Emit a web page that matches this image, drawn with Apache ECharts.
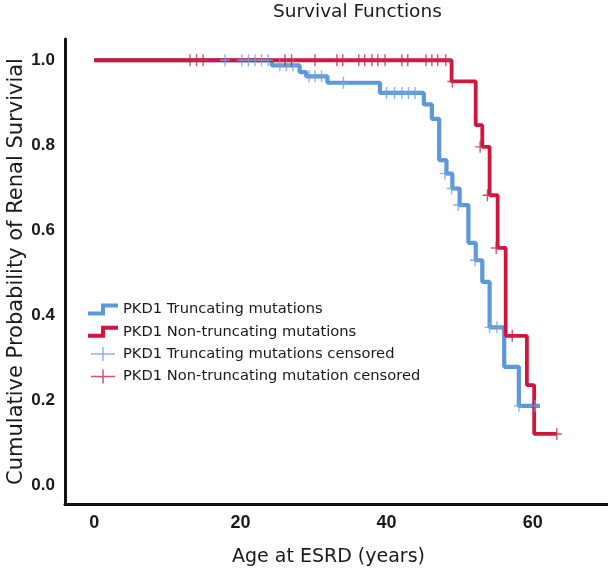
<!DOCTYPE html>
<html>
<head>
<meta charset="utf-8">
<script src="https://cdn.jsdelivr.net/npm/echarts@6/dist/echarts.min.js"></script>
<style>
  html, body { margin: 0; padding: 0; background: #fff; }
  #chart { width: 608px; height: 573px; }
</style>
</head>
<body>
<div id="chart"></div>
<script>
// Kaplan-Meier steps (age in years, survival)
const ageTrunc = [0, 24.3, 28.1, 29.0, 31.9, 39.1, 45.1, 46.2, 47.2, 48.2, 49.0, 50.0, 51.2, 52.2, 53.1, 54.1, 56.1, 58.1, 61.0];
const survTrunc = [1, 0.988, 0.972, 0.962, 0.947, 0.923, 0.896, 0.862, 0.765, 0.733, 0.698, 0.659, 0.570, 0.529, 0.478, 0.371, 0.278, 0.186, 0.186];

const ageNonTrunc = [0, 48.9, 52.2, 53.1, 54.1, 55.2, 56.3, 59.2, 60.2, 63.3];
const survNonTrunc = [1, 0.95, 0.847, 0.796, 0.682, 0.558, 0.351, 0.235, 0.12, 0.12];

// censored cases
const censAgeTrunc = [17.9, 20.2, 21.1, 22.0, 22.9, 23.8, 25.4, 26.3, 27.2, 29.4, 30.2, 31.1, 34.1,
  40.0, 41.1, 42.1, 43.0, 43.9, 48.0, 48.9, 49.8, 52.1, 54.1, 55.1, 58.1, 60.3];
const censSurvTrunc = [1, 1, 1, 1, 1, 1, 0.988, 0.988, 0.988, 0.962, 0.962, 0.962, 0.947,
  0.923, 0.923, 0.923, 0.923, 0.923, 0.733, 0.698, 0.659, 0.529, 0.371, 0.371, 0.186, 0.186];

const censAgeNonTrunc = [13.1, 14.0, 14.9, 26.1, 27.0, 30.2, 33.2, 34.0, 36.2, 37.0, 38.0, 38.8, 39.8,
  42.1, 42.9, 45.4, 46.2, 47.0, 48.1, 49.0, 52.8, 53.8, 55.0, 57.2, 63.3];
const censSurvNonTrunc = [1, 1, 1, 1, 1, 1, 1, 1, 1, 1, 1, 1, 1,
  1, 1, 1, 1, 1, 1, 0.95, 0.796, 0.682, 0.558, 0.351, 0.12];

const xTicks = [0, 20, 40, 60];
const yTicks = [0, 0.2, 0.4, 0.6, 0.8, 1.0];

const names = [
  'PKD1 Truncating mutations',
  'PKD1 Non-truncating mutations',
  'PKD1 Truncating mutations censored',
  'PKD1 Non-truncating mutation censored'
];

function pairs(xs, ys) {
  return xs.map(function (x, i) { return [x, ys[i]]; });
}

const stepIcon = 'path://M0,8 L13,8 L13,0 L30,0 L30,4 L17,4 L17,12 L0,12 Z';
const plusIcon = 'path://M0,6.25 L24,6.25 L24,7.75 L0,7.75 Z M11.25,0 L12.75,0 L12.75,14 L11.25,14 Z';
const censorMark = 'path://M0,5.3 L10,5.3 L10,6.7 L0,6.7 Z M4.3,0 L5.7,0 L5.7,12 L4.3,12 Z';

const chart = echarts.init(document.getElementById('chart'), null, { renderer: 'canvas' });

const option = {
  animation: false,
  backgroundColor: '#fff',
  title: {
    text: 'Survival Functions',
    left: 273,
    top: 3,
    padding: 0,
    textStyle: { fontFamily: 'DejaVu Sans', fontSize: 18.5, fontWeight: 'normal', color: '#1a1a1a' }
  },
  legend: {
    orient: 'vertical',
    left: 83,
    top: 297,
    itemWidth: 30,
    itemHeight: 14,
    itemGap: 7.3,
    textStyle: { fontFamily: 'DejaVu Sans', fontSize: 14.7, color: '#1a1a1a', lineHeight: 14 },
    data: [
      { name: names[0], icon: stepIcon },
      { name: names[1], icon: stepIcon },
      { name: names[2], icon: plusIcon },
      { name: names[3], icon: plusIcon }
    ]
  },
  grid: { left: 65, right: 0, top: 39, bottom: 69, outerBoundsMode: 'none', containLabel: false },
  xAxis: {
    type: 'value',
    min: -4,
    max: 70.3,
    name: 'Age at ESRD (years)',
    nameLocation: 'middle',
    nameGap: 44,
    nameMoveOverlap: false,
    nameTextStyle: { fontFamily: 'DejaVu Sans', fontSize: 19, color: '#1a1a1a', padding: [0, 16, 0, 0] },
    axisLine: { onZero: false, lineStyle: { color: '#111', width: 3 } },
    axisTick: { show: false },
    splitLine: { show: false },
    axisLabel: {
      customValues: xTicks,
      margin: 10,
      fontFamily: 'Liberation Sans',
      fontWeight: 'bold',
      fontSize: 18,
      color: '#1a1a1a'
    }
  },
  yAxis: {
    type: 'value',
    min: -0.045,
    max: 1.05,
    name: 'Cumulative Probability of Renal Survivial',
    nameLocation: 'middle',
    nameGap: 38,
    nameMoveOverlap: false,
    nameTextStyle: { fontFamily: 'DejaVu Sans', fontSize: 21, color: '#1a1a1a' },
    axisLine: { onZero: false, lineStyle: { color: '#111', width: 3 } },
    axisTick: { show: false },
    splitLine: { show: false },
    axisLabel: {
      customValues: yTicks,
      margin: 10,
      formatter: function (v) { return v.toFixed(1); },
      fontFamily: 'Liberation Sans',
      fontWeight: 'bold',
      fontSize: 17,
      color: '#1a1a1a'
    }
  },
  series: [
    {
      name: names[0],
      type: 'line',
      step: 'end',
      data: pairs(ageTrunc, survTrunc),
      showSymbol: false,
      symbol: 'none',
      color: '#5b98dc',
      lineStyle: { color: '#5b98dc', width: 4.2 },
      z: 2
    },
    {
      name: names[1],
      type: 'line',
      step: 'end',
      data: pairs(ageNonTrunc, survNonTrunc),
      showSymbol: false,
      symbol: 'none',
      color: '#d0163c',
      lineStyle: { color: '#d0163c', width: 3.8 },
      z: 3
    },
    {
      name: names[2],
      type: 'scatter',
      data: pairs(censAgeTrunc, censSurvTrunc),
      symbol: censorMark,
      symbolSize: [10, 12],
      itemStyle: { color: '#6fa5e0' },
      z: 4
    },
    {
      name: names[3],
      type: 'scatter',
      data: pairs(censAgeNonTrunc, censSurvNonTrunc),
      symbol: censorMark,
      symbolSize: [10, 12],
      itemStyle: { color: '#c4284f' },
      z: 5
    }
  ]
};

chart.setOption(option);
</script>
</body>
</html>
